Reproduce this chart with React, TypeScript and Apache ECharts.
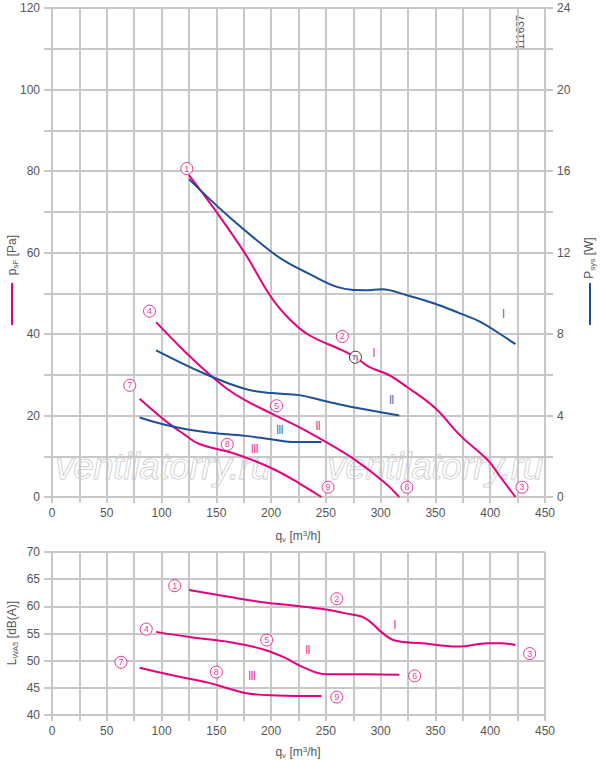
import React, { useEffect, useRef } from "react";
import * as echarts from "echarts";

const MAG = "#e5007d";
const BLUE = "#1d4f9a";
const GRIDC = "#c8c8c8";
const TXT = "#555";

const pressI = [[125,79],[150,70],[176.6,59.6],[197.7,50],[212,45],[233,40],[265,36],[277,34.3],[289,32],[307,30],[324,27],[349,22],[373,15],[398,9],[409,5],[423,0]];
const pressII = [[95,42.9],[120,36],[141.5,30.6],[160,26.5],[176.6,23.7],[201,20.4],[226,17.1],[250,13.5],[275,9.4],[303,3.7],[317,0]];
const pressIII = [[80,24.1],[103,18.8],[120,15.5],[134.5,13],[162.6,11],[183.7,9],[204.8,6.5],[226,3.3],[246,0]];
const powerI = [[125,15.6],[162.6,13.7],[201,12],[215,11.5],[233,11],[261,10.3],[286,10.15],[301,10.2],[324,9.9],[349,9.5],[373,9.0],[391,8.6],[409,8.0],[423,7.5]];
const powerII = [[95,7.2],[141.5,6.0],[176.6,5.3],[201,5.1],[226,5.0],[250,4.7],[275,4.4],[317,4.0]];
const powerIII = [[80,3.9],[103,3.55],[138,3.2],[176.6,3.0],[198,2.85],[219,2.7],[246,2.7]];
const noiseI = [[125,63.0],[162.6,61.7],[190.7,60.8],[222,60.1],[247,59.5],[268,58.7],[286,57.8],[301,55.2],[313,53.7],[338,53.2],[370,52.6],[398,53.2],[409,53.2],[423,52.9]];
const noiseII = [[95,55.3],[127,54.3],[162.6,53.4],[190.7,52.2],[212,50.6],[229,48.8],[250,47.5],[286,47.5],[317,47.4]];
const noiseIII = [[80,48.7],[110,47.3],[141.5,46],[162.6,44.8],[180.6,43.9],[205,43.6],[246,43.5]];

const topMarks = [[123,80.6,"1"],[265,39.4,"2"],[429,2.4,"3"],[89,45.6,"4"],[205,22.4,"5"],[324,2.4,"6"],[71,27.4,"7"],[160,12.9,"8"],[252,2.4,"9"]];
const botMarks = [[112,63.8,"1"],[260,61.4,"2"],[436,51.3,"3"],[86,55.8,"4"],[196,53.8,"5"],[331,47.2,"6"],[63,49.7,"7"],[150,47.9,"8"],[260,43.3,"9"]];
const etaMark = [[277,34.3,"η"]];
const romanPress = [[294,35.5,"Ⅰ"],[243,17.6,"Ⅱ"],[185,12,"Ⅲ"]];
const romanPower = [[412,9.0,"Ⅰ"],[310,4.8,"Ⅱ"],[208,3.3,"Ⅲ"]];
const romanNoise = [[313,56.7,"Ⅰ"],[233.5,52.1,"Ⅱ"],[182.6,47.2,"Ⅲ"]];

const xTicks = { min: 0, max: 450, interval: 25 };

export default function App() {
  const ref = useRef<HTMLDivElement>(null);
  useEffect(() => {
    const chart = echarts.init(ref.current!, null, { renderer: "svg" });
    const font = "Liberation Sans, Arial, sans-serif";
    const xAxis = (gi: number) => ({
      type: "value", gridIndex: gi, ...xTicks,
      axisLine: { show: false },
      axisTick: { show: true, length: 6, lineStyle: { color: GRIDC, width: 2 } },
      axisLabel: { interval: 1, color: TXT, fontSize: 12, fontFamily: font, margin: 10,
        formatter: (v: number) => (v % 50 === 0 ? String(v) : "") },
      splitLine: { show: true, lineStyle: { color: GRIDC, width: 2 } },
    });
    const lineS = (data: any, xi: number, yi: number, color: string) => ({
      type: "line", xAxisIndex: xi, yAxisIndex: yi, data, smooth: 0.4, showSymbol: false,
      lineStyle: { color, width: 2 }, itemStyle: { color }, silent: true,
    });
    const circ = (data: any, xi: number, yi: number, color: string) => ({
      type: "scatter", xAxisIndex: xi, yAxisIndex: yi, data, symbol: "circle", symbolSize: 12,
      itemStyle: { color: "#fff", borderColor: color, borderWidth: 1 },
      label: { show: true, position: "inside", formatter: (p: any) => p.value[2], color, fontSize: 9, fontFamily: font },
      z: 5,
    });
    const txt = (data: any, xi: number, yi: number, color: string) => ({
      type: "scatter", xAxisIndex: xi, yAxisIndex: yi, data, symbolSize: 0,
      label: { show: true, position: "inside", formatter: (p: any) => p.value[2], color, fontSize: 13, fontFamily: "DejaVu Sans Condensed, DejaVu Sans" },
    });
    const wm = (left: number) => ({ type: "text", left, top: 448, z: -1, silent: true,
      style: { text: "ventilatorry.ru", fontSize: 36, fontStyle: "italic", fontFamily: font, fill: "rgba(255,255,255,0.5)", stroke: "#c4c4c4", lineWidth: 1 } });
    chart.setOption({
      animation: false,
      grid: [
        { left: 52, right: 55, top: 8, height: 489 },
        { left: 52, right: 55, top: 552, height: 163 },
      ],
      xAxis: [xAxis(0), xAxis(1)],
      yAxis: [
        { type: "value", gridIndex: 0, min: 0, max: 120, interval: 10,
          axisLine: { show: false },
          axisTick: { show: true, length: 8, lineStyle: { color: GRIDC, width: 2 } },
          axisLabel: { color: TXT, fontSize: 12, fontFamily: font, margin: 12, formatter: (v: number) => (v % 20 === 0 ? String(v) : "") },
          splitLine: { lineStyle: { color: GRIDC, width: 2 } } },
        { type: "value", gridIndex: 0, position: "right", min: 0, max: 24, interval: 2,
          axisLine: { show: false },
          axisTick: { show: true, length: 8, lineStyle: { color: GRIDC, width: 2 } },
          axisLabel: { color: TXT, fontSize: 12, fontFamily: font, margin: 12, formatter: (v: number) => (v % 4 === 0 ? String(v) : "") },
          splitLine: { show: false } },
        { type: "value", gridIndex: 1, min: 40, max: 70, interval: 5,
          axisLine: { show: false },
          axisTick: { show: true, length: 8, lineStyle: { color: GRIDC, width: 2 } },
          axisLabel: { color: TXT, fontSize: 12, fontFamily: font, margin: 12 },
          splitLine: { lineStyle: { color: GRIDC, width: 2 } } },
      ],
      graphic: [
        wm(55), wm(327),
        { type: "text", x: 520, y: 50, rotation: Math.PI / 2, style: { text: "111637", fontSize: 11, fontFamily: font, fill: TXT, align: "left", verticalAlign: "middle" } },
        { type: "text", x: 12, y: 255, rotation: Math.PI / 2, style: { text: "{a|p}{s|sF}{a| [Pa]}", align: "center", verticalAlign: "middle", rich: { a: { fontSize: 12, fill: TXT, fontFamily: font }, s: { fontSize: 8, fill: TXT, fontFamily: font, padding: [6, 0, 0, 0] } } } },
        { type: "line", shape: { x1: 12, y1: 283, x2: 12, y2: 325 }, style: { stroke: MAG, lineWidth: 2 } },
        { type: "text", x: 589, y: 258, rotation: Math.PI / 2, style: { text: "{a|P}{s|sys}{a| [W]}", align: "center", verticalAlign: "middle", rich: { a: { fontSize: 12, fill: TXT, fontFamily: font }, s: { fontSize: 8, fill: TXT, fontFamily: font, padding: [6, 0, 0, 0] } } } },
        { type: "line", shape: { x1: 590, y1: 283, x2: 590, y2: 325 }, style: { stroke: BLUE, lineWidth: 2 } },
        { type: "text", x: 12, y: 633, rotation: Math.PI / 2, style: { text: "{a|L}{s|WA5}{a| [dB(A)]}", align: "center", verticalAlign: "middle", rich: { a: { fontSize: 12, fill: TXT, fontFamily: font }, s: { fontSize: 8, fill: TXT, fontFamily: font, padding: [6, 0, 0, 0] } } } },
        { type: "text", x: 298, y: 536, style: { text: "{a|q}{s|v}{a| [m}{p|3}{a|/h]}", align: "center", verticalAlign: "middle", rich: { a: { fontSize: 12, fill: TXT, fontFamily: font }, s: { fontSize: 8, fill: TXT, fontFamily: font, padding: [6, 0, 0, 0] }, p: { fontSize: 8, fill: TXT, fontFamily: font, padding: [0, 0, 6, 0] } } } },
        { type: "text", x: 298, y: 752, style: { text: "{a|q}{s|v}{a| [m}{p|3}{a|/h]}", align: "center", verticalAlign: "middle", rich: { a: { fontSize: 12, fill: TXT, fontFamily: font }, s: { fontSize: 8, fill: TXT, fontFamily: font, padding: [6, 0, 0, 0] }, p: { fontSize: 8, fill: TXT, fontFamily: font, padding: [0, 0, 6, 0] } } } },
      ],
      series: [
        lineS(pressI, 0, 0, MAG), lineS(pressII, 0, 0, MAG), lineS(pressIII, 0, 0, MAG),
        lineS(powerI, 0, 1, BLUE), lineS(powerII, 0, 1, BLUE), lineS(powerIII, 0, 1, BLUE),
        lineS(noiseI, 1, 2, MAG), lineS(noiseII, 1, 2, MAG), lineS(noiseIII, 1, 2, MAG),
        circ(topMarks, 0, 0, MAG), circ(etaMark, 0, 0, "#111"), circ(botMarks, 1, 2, MAG),
        txt(romanPress, 0, 0, MAG), txt(romanPower, 0, 1, BLUE), txt(romanNoise, 1, 2, MAG),
      ],
    });
    return () => chart.dispose();
  }, []);
  return <div ref={ref} style={{ width: 600, height: 760, position: "absolute", left: 0, top: 0, background: "#fff" }} />;
}
